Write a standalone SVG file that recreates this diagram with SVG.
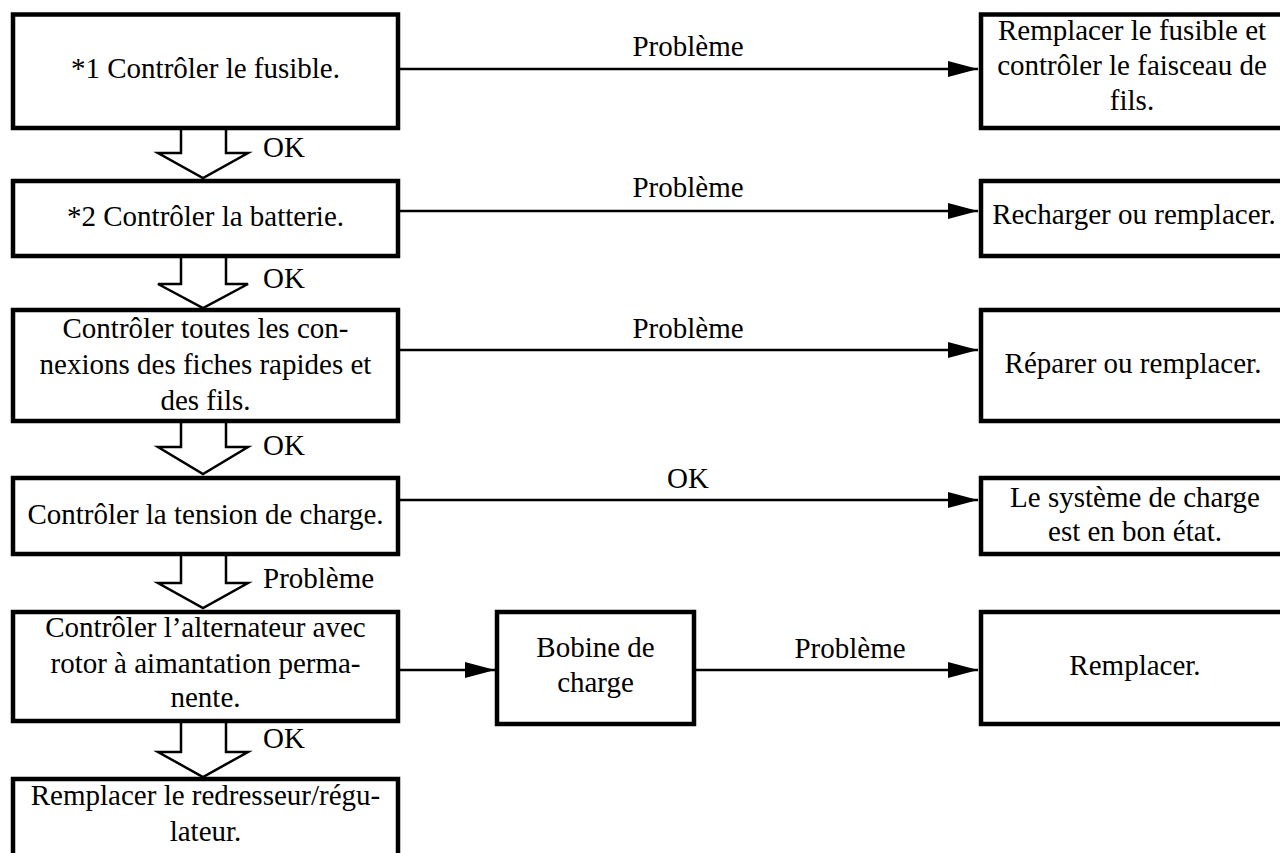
<svg xmlns="http://www.w3.org/2000/svg" width="1280" height="853" viewBox="0 0 1280 853">
<style>
.box{fill:#fff;stroke:#000;stroke-width:4.5}
.t{font-family:"Liberation Serif","Times New Roman",serif;font-size:29px;fill:#000;text-anchor:middle}
.l{font-family:"Liberation Serif","Times New Roman",serif;font-size:29px;fill:#000}
.con{stroke:#000;stroke-width:2.5;fill:none;marker-end:url(#ah)}
.ha{fill:#fff;stroke:#000;stroke-width:2.5;stroke-linejoin:miter}
</style>
<defs>
<marker id="ah" markerUnits="userSpaceOnUse" markerWidth="32" markerHeight="18" refX="30" refY="8" orient="auto">
<path d="M0,0 L30,8 L0,16 z" fill="#000"/>
</marker>
</defs>
<rect width="1280" height="853" fill="#fff"/>
<g id="flow-arrows">
<path class="ha" d="M181,128 V153 H158 L203,178 L248,153 H226 V128"/>
<path class="ha" d="M181,256 V284 H158 L203,308 L248,284 H226 V256"/>
<path class="ha" d="M181,421 V447 H158 L203,474 L248,447 H226 V421"/>
<path class="ha" d="M181,554 V583 H158 L203,608 L248,583 H226 V554"/>
<path class="ha" d="M181,721 V752 H158 L203,777 L248,752 H226 V721"/>
<text class="l" x="263" y="157">OK</text>
<text class="l" x="263" y="288">OK</text>
<text class="l" x="263" y="455">OK</text>
<text class="l" x="263" y="588">Problème</text>
<text class="l" x="263" y="748">OK</text>
</g>
<g id="connectors">
<line class="con" x1="400" y1="69" x2="978" y2="69"/>
<line class="con" x1="400" y1="211" x2="978" y2="211"/>
<line class="con" x1="400" y1="350" x2="978" y2="350"/>
<line class="con" x1="400" y1="500" x2="978" y2="500"/>
<line class="con" x1="400" y1="670" x2="495" y2="670"/>
<line class="con" x1="696" y1="670" x2="978" y2="670"/>
<text class="t" x="688" y="56">Problème</text>
<text class="t" x="688" y="197">Problème</text>
<text class="t" x="688" y="338">Problème</text>
<text class="t" x="688" y="488">OK</text>
<text class="t" x="850" y="658">Problème</text>
</g>
<g id="n1"><rect class="box" x="13" y="14.5" width="385" height="113.5"/><text class="t" x="205.5" y="78">*1 Contrôler le fusible.</text></g>
<g id="n2"><rect class="box" x="13" y="181" width="385" height="75"/><text class="t" x="205.5" y="226">*2 Contrôler la batterie.</text></g>
<g id="n3"><rect class="box" x="13" y="310" width="385" height="111"/><text class="t" x="205.5" y="338">Contrôler toutes les con-</text><text class="t" x="205.5" y="374">nexions des fiches rapides et</text><text class="t" x="205.5" y="410">des fils.</text></g>
<g id="n4"><rect class="box" x="13" y="478" width="385" height="76"/><text class="t" x="205.5" y="524">Contrôler la tension de charge.</text></g>
<g id="n5"><rect class="box" x="13" y="612" width="385" height="109"/><text class="t" x="205.5" y="637">Contrôler l’alternateur avec</text><text class="t" x="205.5" y="673">rotor à aimantation perma-</text><text class="t" x="205.5" y="707">nente.</text></g>
<g id="n6"><rect class="box" x="13" y="779" width="385" height="100"/><text class="t" x="205.5" y="805">Remplacer le redresseur/régu-</text><text class="t" x="205.5" y="841">lateur.</text></g>
<g id="r1"><rect class="box" x="981" y="14.5" width="303" height="113.5"/><text class="t" x="1132" y="40">Remplacer le fusible et</text><text class="t" x="1132" y="75">contrôler le faisceau de</text><text class="t" x="1132" y="110">fils.</text></g>
<g id="r2"><rect class="box" x="981" y="181" width="303" height="75"/><text class="t" x="1134" y="224">Recharger ou remplacer.</text></g>
<g id="r3"><rect class="box" x="981" y="310" width="303" height="111"/><text class="t" x="1133" y="373">Réparer ou remplacer.</text></g>
<g id="r4"><rect class="box" x="981" y="478" width="303" height="76"/><text class="t" x="1135" y="507">Le système de charge</text><text class="t" x="1135" y="541">est en bon état.</text></g>
<g id="r5"><rect class="box" x="981" y="612" width="303" height="112"/><text class="t" x="1135" y="675">Remplacer.</text></g>
<g id="bobine"><rect class="box" x="497" y="612" width="197" height="112"/><text class="t" x="595.5" y="657">Bobine de</text><text class="t" x="595.5" y="692">charge</text></g>
</svg>
